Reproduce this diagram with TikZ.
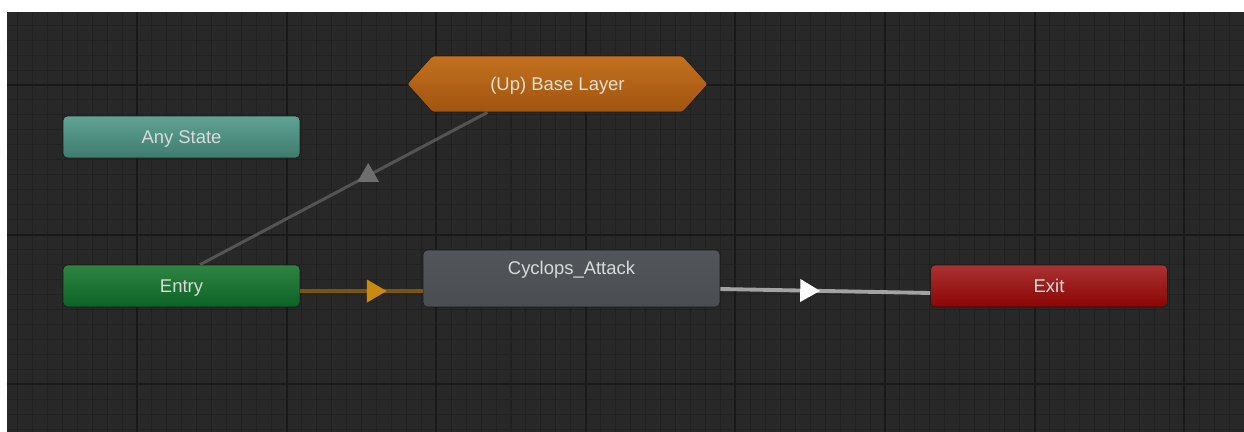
\documentclass[tikz,border=0pt]{standalone}
\usepackage{fontspec}
\setmainfont{Liberation Sans}
\usetikzlibrary{shapes.symbols,shapes.geometric,arrows.meta,decorations.markings}

\definecolor{canvas}{HTML}{282828}
\definecolor{gridminor}{HTML}{212121}
\definecolor{gridmajor}{HTML}{191919}
\definecolor{nodeedge}{HTML}{1C1C1C}
\definecolor{labeltext}{HTML}{DADADA}
\definecolor{anytop}{HTML}{5FA392}
\definecolor{anybot}{HTML}{3E7B70}
\definecolor{entrytop}{HTML}{2F8442}
\definecolor{entrybot}{HTML}{0C6326}
\definecolor{exittop}{HTML}{A93231}
\definecolor{exitbot}{HTML}{8B0505}
\definecolor{cyctop}{HTML}{52555A}
\definecolor{cycbot}{HTML}{4A4D52}
\definecolor{basetop}{HTML}{C3711F}
\definecolor{basebot}{HTML}{A0540E}
\definecolor{basetext}{HTML}{EADFD2}
\definecolor{uplink}{HTML}{545454}
\definecolor{uptip}{HTML}{6E6E6E}
\definecolor{entrylink}{HTML}{7A5409}
\definecolor{entrytip}{HTML}{C98A12}
\definecolor{exitlink}{HTML}{A3A3A3}

\tikzset{
  labelfont/.style={font=\fontsize{10.5}{12}\selectfont, text height=0.72em, text depth=0pt},
  state/.style={rectangle, rounded corners=2.5pt, minimum width=4.74cm,
    minimum height=0.84cm, inner sep=0pt, draw=nodeedge, line width=0.4pt,
    text=labeltext, labelfont},
  trans/.style={line width=#1, line cap=butt, postaction={decorate}},
  tipat/.style 2 args={decoration={markings,
    mark=at position #1 with {\arrow{Triangle[length=0.4cm,width=0.44cm,color=#2]}}}},
}

\begin{document}
\begin{tikzpicture}[x=0.02cm, y=-0.02cm]
	\useasboundingbox (0,0) rectangle (1244,432);
	\fill[white] (0,0) rectangle (1244,432);
	\fill[canvas] (7,12) rectangle (1244,432);

	% grid
	\begin{scope}
		\clip (7,12) rectangle (1244,432);
		\foreach \i in {0,...,83}
			\draw[gridminor, line width=0.6pt] ({2.36+\i*14.96},12) -- ++(0,420);
		\foreach \j in {0,...,28}
			\draw[gridminor, line width=0.6pt] (7,{10.2+\j*14.96}) -- ++(1237,0);
		\foreach \k in {-1,...,7}
			\draw[gridmajor, line width=1.1pt] ({137+\k*149.6},12) -- ++(0,420);
		\foreach \k in {0,1,2}
			\draw[gridmajor, line width=1.1pt] (7,{85+\k*149.6}) -- ++(1237,0);
	\end{scope}

	% states
	\node[state, top color=anytop, bottom color=anybot] (anystate) at (181.5,137) {Any State};
	\node[state, top color=entrytop, bottom color=entrybot] (entry) at (181.5,286) {Entry};
	\node[state, top color=exittop, bottom color=exitbot] (exit) at (1049,286) {Exit};
	\node[state, minimum width=5.94cm, minimum height=1.14cm, top color=cyctop, bottom color=cycbot,
		label={[text=labeltext, labelfont, anchor=center, yshift=-0.38cm]north:Cyclops\_Attack}]
		(cyclops) at (571.5,278.5) {};
	\node[signal, signal to=east and west, signal pointer angle=96, minimum width=6.02cm, minimum height=1.12cm,
		inner sep=0pt, draw=nodeedge, line width=0.4pt, rounded corners=1pt, top color=basetop, bottom color=basebot,
		text=basetext, labelfont] (baselayer) at (557.5,84) {(Up) Base Layer};

	% transitions
	\draw[trans=1.7pt, uplink, decoration={markings, mark=at position 0.585 with
		{\node[regular polygon, regular polygon sides=3, minimum size=0.5cm, inner sep=0pt, fill=uptip] {};}}]
		([xshift=0.37cm]entry.north) -- ([xshift=-1.4cm]baselayer.south);
	\draw[trans=2.3pt, entrylink, tipat={0.707}{entrytip}]
		([yshift=-0.1cm]entry.east) -- ([yshift=-0.1cm]entry.east -| cyclops.west);
	\draw[trans=2.2pt, exitlink, tipat={0.476}{white}]
		([yshift=-0.21cm]cyclops.east) -- ([yshift=-0.14cm]exit.west);
\end{tikzpicture}
\end{document}
